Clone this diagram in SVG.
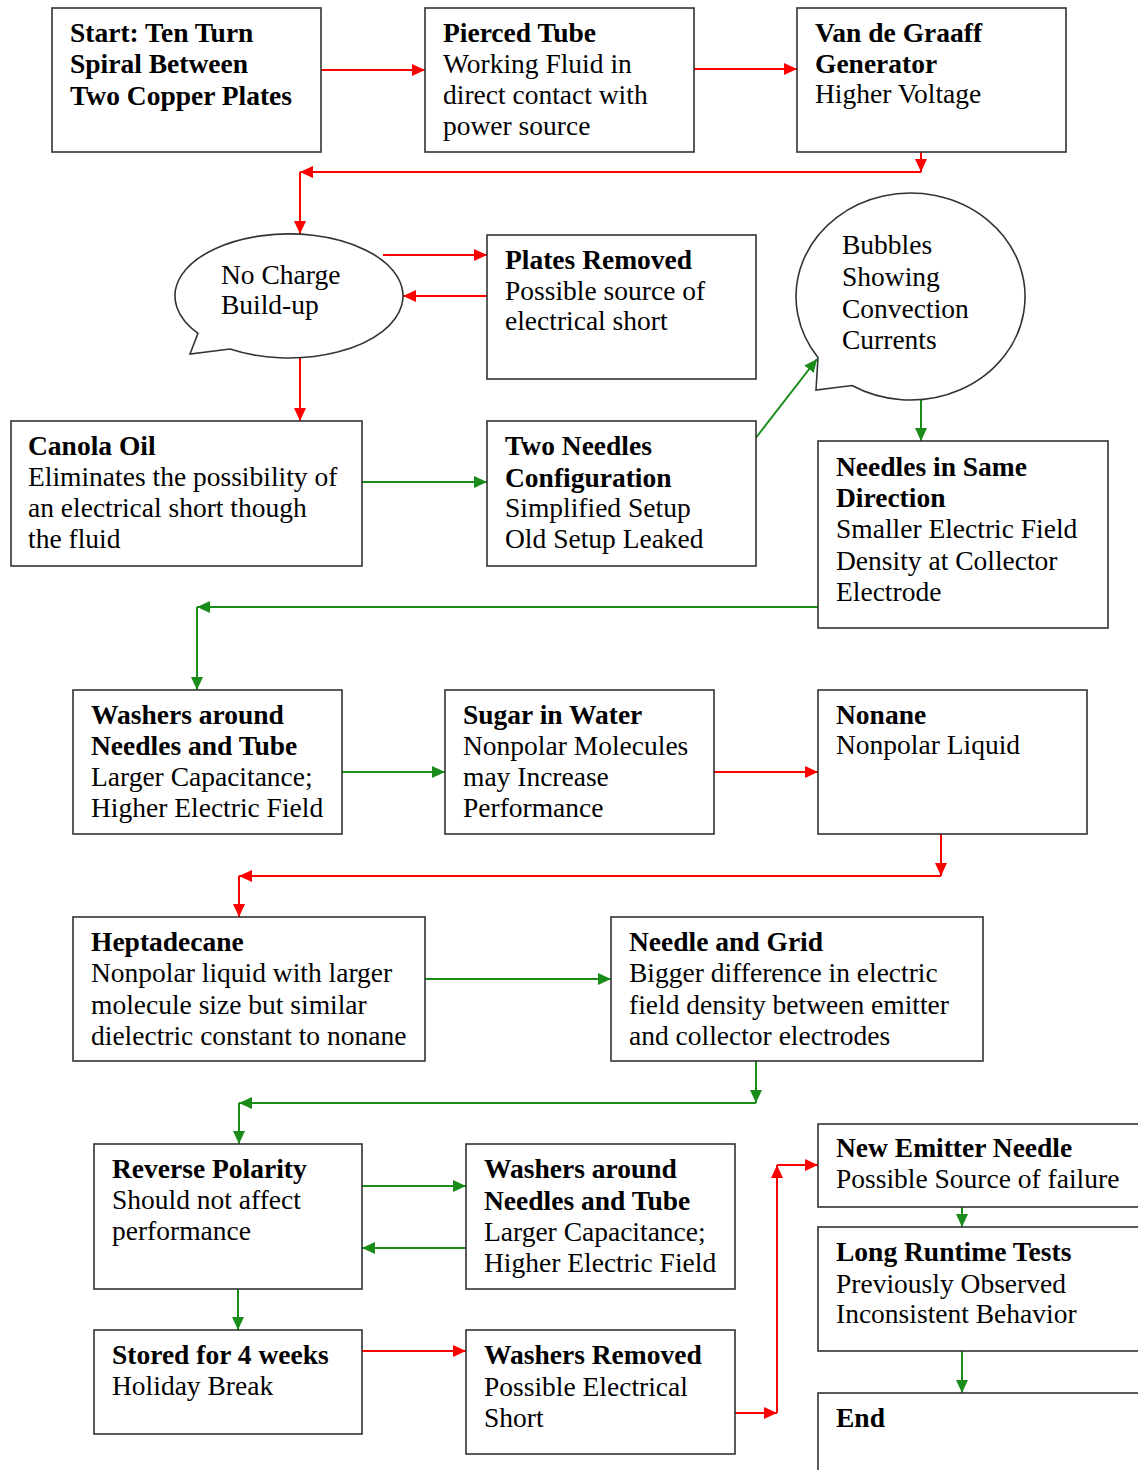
<svg xmlns="http://www.w3.org/2000/svg" width="1138" height="1470" viewBox="0 0 1138 1470">
<defs>
<style>
.box{fill:#fff;stroke:#333;stroke-width:1.6}
.t{font-family:"Liberation Serif","DejaVu Serif",serif;font-size:27.5px;fill:#000}
.b{font-weight:bold}
.r{stroke:#ff0000;stroke-width:2;fill:none}
.g{stroke:#1a8c1a;stroke-width:2;fill:none}
.r.a{marker-end:url(#ar)}
.g.a{marker-end:url(#ag)}
</style>
<marker id="ar" markerUnits="userSpaceOnUse" markerWidth="14" markerHeight="12" refX="13" refY="6" orient="auto"><path d="M0,0 L13,6 L0,12 Z" fill="#ff0000"/></marker>
<marker id="ag" markerUnits="userSpaceOnUse" markerWidth="14" markerHeight="12" refX="13" refY="6" orient="auto"><path d="M0,0 L13,6 L0,12 Z" fill="#1a8c1a"/></marker>
</defs>
<rect width="1138" height="1470" fill="#fff"/>

<g id="connectors">
<line class="r a" x1="321" y1="70" x2="425" y2="70"/>
<line class="r a" x1="694" y1="69" x2="797" y2="69"/>
<line class="r a" x1="921" y1="152" x2="921" y2="172"/>
<line class="r a" x1="921" y1="172" x2="300" y2="172"/>
<line class="r a" x1="300" y1="172" x2="300" y2="234"/>
<line class="r a" x1="383" y1="255" x2="487" y2="255"/>
<line class="r a" x1="487" y1="296" x2="403" y2="296"/>
<line class="r a" x1="300" y1="358" x2="300" y2="421"/>
<line class="g a" x1="362" y1="482" x2="487" y2="482"/>
<line class="g a" x1="755" y1="439" x2="817" y2="359"/>
<line class="g a" x1="921" y1="400" x2="921" y2="441"/>
<line class="g a" x1="818" y1="607" x2="197" y2="607"/>
<line class="g a" x1="197" y1="607" x2="197" y2="690"/>
<line class="g a" x1="342" y1="772" x2="445" y2="772"/>
<line class="r a" x1="714" y1="772" x2="818" y2="772"/>
<line class="r a" x1="941" y1="834" x2="941" y2="876"/>
<line class="r a" x1="941" y1="876" x2="239" y2="876"/>
<line class="r a" x1="239" y1="876" x2="239" y2="917"/>
<line class="g a" x1="425" y1="979" x2="611" y2="979"/>
<line class="g a" x1="756" y1="1061" x2="756" y2="1103"/>
<line class="g a" x1="756" y1="1103" x2="239" y2="1103"/>
<line class="g a" x1="239" y1="1103" x2="239" y2="1144"/>
<line class="g a" x1="362" y1="1186" x2="466" y2="1186"/>
<line class="g a" x1="466" y1="1248" x2="362" y2="1248"/>
<line class="g a" x1="238" y1="1289" x2="238" y2="1330"/>
<line class="r a" x1="362" y1="1351" x2="466" y2="1351"/>
<line class="r a" x1="735" y1="1413" x2="777" y2="1413"/>
<line class="r a" x1="777" y1="1413" x2="777" y2="1165"/>
<line class="r a" x1="777" y1="1165" x2="818" y2="1165"/>
<line class="g a" x1="962" y1="1207" x2="962" y2="1227"/>
<line class="g a" x1="962" y1="1351" x2="962" y2="1393"/>
</g>

<g id="start">
<rect class="box" x="52" y="8" width="269" height="144"/>
<text class="t b" x="70" y="42">Start: Ten Turn</text>
<text class="t b" x="70" y="73">Spiral Between</text>
<text class="t b" x="70" y="105">Two Copper Plates</text>
</g>
<g id="pierced">
<rect class="box" x="425" y="8" width="269" height="144"/>
<text class="t b" x="443" y="42">Pierced Tube</text>
<text class="t" x="443" y="73">Working Fluid in</text>
<text class="t" x="443" y="104">direct contact with</text>
<text class="t" x="443" y="135">power source</text>
</g>
<g id="vandegraaff">
<rect class="box" x="797" y="8" width="269" height="144"/>
<text class="t b" x="815" y="42">Van de Graaff</text>
<text class="t b" x="815" y="73">Generator</text>
<text class="t" x="815" y="103">Higher Voltage</text>
</g>
<g id="nocharge">
<path class="box" d="M198,333.3 A114,62 0 1 1 230,349 L190,354 Z"/>
<text class="t" x="221" y="284">No Charge</text>
<text class="t" x="221" y="314">Build-up</text>
</g>
<g id="plates">
<rect class="box" x="487" y="235" width="269" height="144"/>
<text class="t b" x="505" y="269">Plates Removed</text>
<text class="t" x="505" y="300">Possible source of</text>
<text class="t" x="505" y="330">electrical short</text>
</g>
<g id="bubbles">
<path class="box" d="M818,357.5 A114.5,103.5 0 1 1 852,385.5 L816,390 Z"/>
<text class="t" x="842" y="254">Bubbles</text>
<text class="t" x="842" y="286">Showing</text>
<text class="t" x="842" y="318">Convection</text>
<text class="t" x="842" y="349">Currents</text>
</g>
<g id="canola">
<rect class="box" x="11" y="421" width="351" height="145"/>
<text class="t b" x="28" y="455">Canola Oil</text>
<text class="t" x="28" y="486">Eliminates the possibility of</text>
<text class="t" x="28" y="517">an electrical short though</text>
<text class="t" x="28" y="548">the fluid</text>
</g>
<g id="twoneedles">
<rect class="box" x="487" y="421" width="269" height="145"/>
<text class="t b" x="505" y="455">Two Needles</text>
<text class="t b" x="505" y="487">Configuration</text>
<text class="t" x="505" y="517">Simplified Setup</text>
<text class="t" x="505" y="548">Old Setup Leaked</text>
</g>
<g id="samedirection">
<rect class="box" x="818" y="441" width="290" height="187"/>
<text class="t b" x="836" y="476">Needles in Same</text>
<text class="t b" x="836" y="507">Direction</text>
<text class="t" x="836" y="538">Smaller Electric Field</text>
<text class="t" x="836" y="570">Density at Collector</text>
<text class="t" x="836" y="601">Electrode</text>
</g>
<g id="washers1">
<rect class="box" x="73" y="690" width="269" height="144"/>
<text class="t b" x="91" y="724">Washers around</text>
<text class="t b" x="91" y="755">Needles and Tube</text>
<text class="t" x="91" y="786">Larger Capacitance;</text>
<text class="t" x="91" y="817">Higher Electric Field</text>
</g>
<g id="sugar">
<rect class="box" x="445" y="690" width="269" height="144"/>
<text class="t b" x="463" y="724">Sugar in Water</text>
<text class="t" x="463" y="755">Nonpolar Molecules</text>
<text class="t" x="463" y="786">may Increase</text>
<text class="t" x="463" y="817">Performance</text>
</g>
<g id="nonane">
<rect class="box" x="818" y="690" width="269" height="144"/>
<text class="t b" x="836" y="724">Nonane</text>
<text class="t" x="836" y="754">Nonpolar Liquid</text>
</g>
<g id="heptadecane">
<rect class="box" x="73" y="917" width="352" height="144"/>
<text class="t b" x="91" y="951">Heptadecane</text>
<text class="t" x="91" y="982">Nonpolar liquid with larger</text>
<text class="t" x="91" y="1014">molecule size but similar</text>
<text class="t" x="91" y="1045">dielectric constant to nonane</text>
</g>
<g id="needlegrid">
<rect class="box" x="611" y="917" width="372" height="144"/>
<text class="t b" x="629" y="951">Needle and Grid</text>
<text class="t" x="629" y="982">Bigger difference in electric</text>
<text class="t" x="629" y="1014">field density between emitter</text>
<text class="t" x="629" y="1045">and collector electrodes</text>
</g>
<g id="reverse">
<rect class="box" x="94" y="1144" width="268" height="145"/>
<text class="t b" x="112" y="1178">Reverse Polarity</text>
<text class="t" x="112" y="1209">Should not affect</text>
<text class="t" x="112" y="1240">performance</text>
</g>
<g id="washers2">
<rect class="box" x="466" y="1144" width="269" height="145"/>
<text class="t b" x="484" y="1178">Washers around</text>
<text class="t b" x="484" y="1210">Needles and Tube</text>
<text class="t" x="484" y="1241">Larger Capacitance;</text>
<text class="t" x="484" y="1272">Higher Electric Field</text>
</g>
<g id="stored">
<rect class="box" x="94" y="1330" width="268" height="104"/>
<text class="t b" x="112" y="1364">Stored for 4 weeks</text>
<text class="t" x="112" y="1395">Holiday Break</text>
</g>
<g id="washersremoved">
<rect class="box" x="466" y="1330" width="269" height="124"/>
<text class="t b" x="484" y="1364">Washers Removed</text>
<text class="t" x="484" y="1396">Possible Electrical</text>
<text class="t" x="484" y="1427">Short</text>
</g>
<g id="newemitter">
<rect class="box" x="818" y="1124" width="330" height="83"/>
<text class="t b" x="836" y="1157">New Emitter Needle</text>
<text class="t" x="836" y="1188">Possible Source of failure</text>
</g>
<g id="longruntime">
<rect class="box" x="818" y="1227" width="330" height="124"/>
<text class="t b" x="836" y="1261">Long Runtime Tests</text>
<text class="t" x="836" y="1293">Previously Observed</text>
<text class="t" x="836" y="1323">Inconsistent Behavior</text>
</g>
<g id="end">
<rect class="box" x="818" y="1393" width="330" height="90"/>
<text class="t b" x="836" y="1427">End</text>
</g>
</svg>
